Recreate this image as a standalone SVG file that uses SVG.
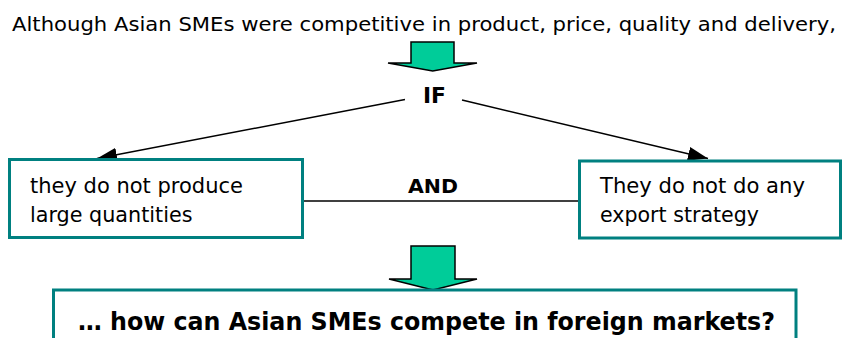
<svg xmlns="http://www.w3.org/2000/svg" width="843" height="338" viewBox="0 0 843 338">
<style>
.t{font-family:"DejaVu Sans","Liberation Sans",sans-serif;fill:#000}
.box{fill:#fff;stroke:#008080;stroke-width:3}
.big{fill:#00CC99;stroke:#000;stroke-width:1.5;stroke-linejoin:miter}
.ln{stroke:#000;stroke-width:1.5;fill:none}
.n{font-size:21px}
</style>
<defs>
<marker id="ah" viewBox="0 0 20 14" refX="20" refY="7" markerWidth="20" markerHeight="14" markerUnits="userSpaceOnUse" orient="auto">
<path d="M0,0 L20,7 L0,14 Z" fill="#000"/>
</marker>
</defs>
<rect width="843" height="338" fill="#fff"/>
<text class="t" x="12" y="31" font-size="19.5" textLength="824" lengthAdjust="spacingAndGlyphs">Although Asian SMEs were competitive in product, price, quality and delivery,</text>
<g id="arrow-top">
<path class="big" d="M411,42 L454,42 L454,63 L477,63 L432.7,71 L388,63 L411,63 Z"/>
</g>
<g id="connectors">
<line class="ln" x1="405" y1="99.5" x2="97" y2="158.5" marker-end="url(#ah)"/>
<line class="ln" x1="462" y1="100" x2="708" y2="158.5" marker-end="url(#ah)"/>
<line class="ln" x1="303" y1="201" x2="579" y2="201"/>
</g>
<g id="if">
<text class="t" x="423" y="103" font-size="21" font-weight="bold" textLength="23" lengthAdjust="spacingAndGlyphs">IF</text>
</g>
<g id="and">
<text class="t" x="408" y="193.3" font-size="19.5" font-weight="bold" textLength="50" lengthAdjust="spacingAndGlyphs">AND</text>
</g>
<g id="node-left">
<rect class="box" x="9.5" y="159.5" width="293" height="78"/>
<text class="t n" x="30" y="193.3" textLength="213" lengthAdjust="spacingAndGlyphs">they do not produce</text>
<text class="t n" x="30" y="222" textLength="162.5" lengthAdjust="spacingAndGlyphs">large quantities</text>
</g>
<g id="node-right">
<rect class="box" x="579.5" y="161" width="261" height="77"/>
<text class="t n" x="600" y="193" textLength="205" lengthAdjust="spacingAndGlyphs">They do not do any</text>
<text class="t n" x="600" y="222" textLength="159" lengthAdjust="spacingAndGlyphs">export strategy</text>
</g>
<g id="arrow-bottom">
<path class="big" d="M411,246 L455,246 L455,279 L477,279 L433,290 L389,279 L411,279 Z"/>
</g>
<g id="node-bottom">
<rect class="box" x="53.5" y="290" width="742.5" height="60"/>
<text class="t" x="78" y="330" font-size="25" font-weight="bold" textLength="697" lengthAdjust="spacingAndGlyphs">… how can Asian SMEs compete in foreign markets?</text>
</g>
</svg>
